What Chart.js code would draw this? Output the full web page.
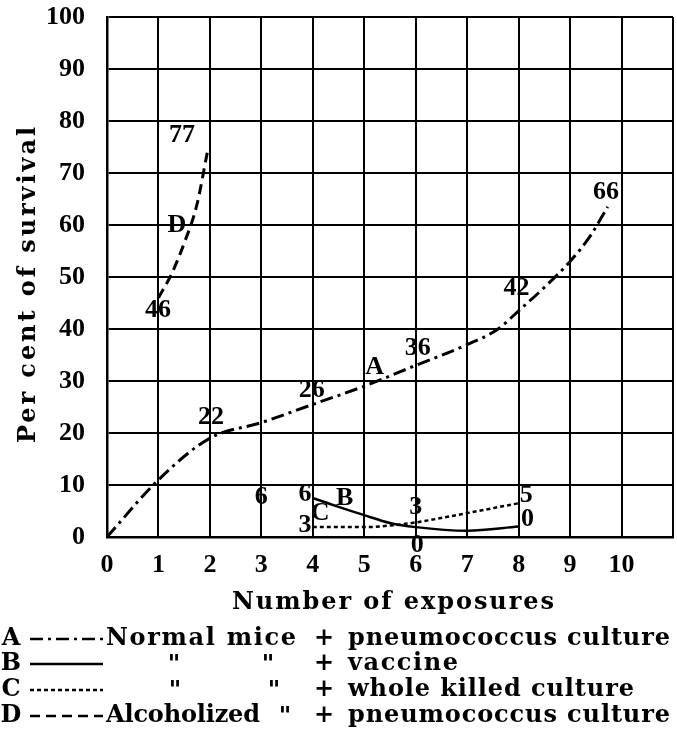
<!DOCTYPE html>
<html>
<head>
<meta charset="utf-8">
<script src="https://cdn.jsdelivr.net/npm/chart.js@4.4.1/dist/chart.umd.min.js"></script>
<style>
  html, body { margin: 0; padding: 0; background: #fff; }
  #wrap { width: 677px; height: 740px; }
</style>
</head>
<body>
<div id="wrap"><canvas id="myChart" width="677" height="740"></canvas></div>
<script>
// curves (exposures, per cent survival)
const xA = [0, 1, 2, 3, 4, 5, 6, 7, 7.6, 8, 8.5, 9, 9.4, 9.73];
const yA = [0, 11, 19, 22, 25.5, 29, 33, 37, 40, 43.5, 48, 53, 58, 63.5];
const xB = [4, 4.5, 5, 5.5, 6, 7, 8];
const yB = [7.5, 5.8, 4.2, 2.7, 1.9, 1.2, 2];
const xC = [4, 5, 5.5, 6, 7, 8];
const yC = [1.9, 1.9, 2.2, 2.8, 4.6, 6.5];
const xD = [1, 1.25, 1.5, 1.75, 1.95];
const yD = [46, 50.5, 56.5, 64, 74];

// numbers & letters written on the plate
const noteText = ['77', 'D', '46', '22', '26', 'A', '36', '42', '66', '6', '6', 'B', 'C', '3', '3', '0', '5', '0'];
const noteX = [1.46, 1.36, 0.99, 2.02, 3.98, 5.2, 6.04, 7.96, 9.7, 3.0, 3.85, 4.62, 4.14, 3.85, 6.0, 6.03, 8.15, 8.17];
const noteY = [77.2, 60, 43.6, 23, 28.3, 32.7, 36.3, 47.9, 66.3, 7.7, 8.2, 7.5, 4.6, 2.3, 5.8, -1.6, 8.0, 3.5];

const xTicks = [0, 1, 2, 3, 4, 5, 6, 7, 8, 9, 10];
const xTitle = 'Number of exposures';
const yTitle = 'Per cent of survival';

const keyLetter = ['A', 'B', 'C', 'D'];
const keyGroup = ['Normal mice', '"', '"', 'Alcoholized'];
const keyHost = ['', '"', '"', '"'];
const keyAgent = ['pneumococcus culture', 'vaccine', 'whole killed culture', 'pneumococcus culture'];

const pts = (xs, ys) => xs.map((x, i) => ({ x: x, y: ys[i] }));

const numFont = 'bold 26px "Liberation Serif"';
const wordFont = 'bold 24px "DejaVu Serif"';

// draw text stretched to a given width (old typewriter lettering is wide)
function wideText(c, text, x, y, width) {
    c.letterSpacing = '0px';
    const w = c.measureText(text).width;
    const n = text.length;
    if (width && n > 1) {
        c.letterSpacing = ((width - w) / (n - 1)) + 'px';
    }
    c.textAlign = 'left';
    c.fillText(text, x, y);
    c.letterSpacing = '0px';
}

const plateText = {
    id: 'plateText',
    afterDraw(chart) {
        const c = chart.ctx;
        const sx = chart.scales.x, sy = chart.scales.y;
        c.save();
        c.fillStyle = '#000';
        c.textBaseline = 'middle';

        // labels on curves
        c.font = numFont;
        c.textAlign = 'center';
        noteText.forEach((t, i) => {
            c.fillText(t, sx.getPixelForValue(noteX[i]), sy.getPixelForValue(noteY[i]));
        });

        // axis titles
        c.font = wordFont;
        wideText(c, xTitle, 232, 603, 322);
        c.save();
        c.translate(29, 285);
        c.rotate(-Math.PI / 2);
        wideText(c, yTitle, -158, 0, 316);
        c.restore();

        // key
        const rowY = [639, 664, 690, 716];
        const groupW = { 'Normal mice': 190, 'Alcoholized': 154 };
        const agentW = { 'pneumococcus culture': 322, 'vaccine': 110, 'whole killed culture': 286 };
        chart.data.datasets.forEach((ds, i) => {
            const y = rowY[i];
            c.font = wordFont;
            c.textAlign = 'center';
            c.fillText(keyLetter[i], 11, y);
            c.save();
            c.strokeStyle = '#000';
            c.lineWidth = 2.5;
            c.setLineDash(ds.borderDash || []);
            c.beginPath();
            c.moveTo(30, y);
            c.lineTo(103, y);
            c.stroke();
            c.restore();
            if (keyGroup[i] === '"') {
                c.textAlign = 'center';
                c.fillText('"', 173 + i, y + 2);
            } else {
                wideText(c, keyGroup[i], 106, y, groupW[keyGroup[i]]);
            }
            if (keyHost[i]) {
                c.textAlign = 'center';
                c.fillText('"', i === 3 ? 285 : 268 + (i - 1) * 6, y + 2);
            }
            c.textAlign = 'center';
            c.fillText('+', 324, y);
            wideText(c, keyAgent[i], 348, y, agentW[keyAgent[i]]);
        });
        c.restore();
    }
};

const ctx = document.getElementById('myChart');

const chartConfig = {
    type: 'line',
    data: {
        datasets: [{
            label: 'A',
            data: pts(xA, yA),
            borderColor: '#000',
            borderWidth: 3,
            borderDash: [13, 5, 3, 5],
        }, {
            label: 'B',
            data: pts(xB, yB),
            borderColor: '#000',
            borderWidth: 2.5,
        }, {
            label: 'C',
            data: pts(xC, yC),
            borderColor: '#000',
            borderWidth: 2.5,
            borderDash: [4, 3],
        }, {
            label: 'D',
            data: pts(xD, yD),
            borderColor: '#000',
            borderWidth: 3,
            borderDash: [10, 6],
        }],
    },
    options: {
        responsive: false,
        animation: false,
        layout: { padding: { left: 0, right: 4, top: 17, bottom: 125 } },
        elements: {
            point: { radius: 0 },
            line: { cubicInterpolationMode: 'monotone', fill: false },
        },
        plugins: {
            legend: { display: false },
            tooltip: { enabled: false },
        },
        scales: {
            x: {
                type: 'linear',
                min: 0,
                max: 11,
                afterBuildTicks: (s) => { s.ticks = xTicks.concat([11]).map(v => ({ value: v })); },
                afterFit: (s) => {
                    s.height = 78;
                    s.paddingLeft = 0;
                    s.paddingRight = 0;
                },
                ticks: {
                    color: '#000',
                    font: { family: 'Liberation Serif', size: 26, weight: 'bold' },
                    padding: 13,
                    maxRotation: 0,
                    autoSkip: false,
                    callback: (v) => xTicks.includes(v) ? String(v) : '',
                },
                grid: { color: '#000', lineWidth: 2, drawTicks: false },
                border: { color: '#000', width: 2.5 },
            },
            y: {
                min: 0,
                max: 100,
                afterFit: (s) => {
                    s.width = 107;
                    s.paddingTop = 0;
                    s.paddingBottom = 0;
                },
                ticks: {
                    stepSize: 10,
                    color: '#000',
                    font: { family: 'Liberation Serif', size: 26, weight: 'bold' },
                    padding: 22,
                },
                grid: { color: '#000', lineWidth: 2, drawTicks: false },
                border: { color: '#000', width: 2.5 },
            },
        },
    },
    plugins: [plateText],
};
chart = new Chart(ctx, chartConfig);
</script>
</body>
</html>
